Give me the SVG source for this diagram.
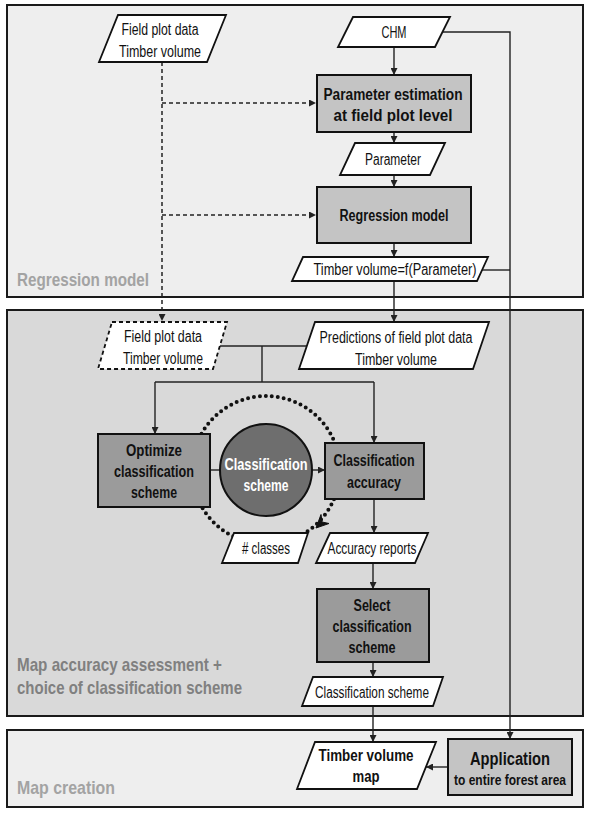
<svg xmlns="http://www.w3.org/2000/svg" width="590" height="814" viewBox="0 0 590 814">
<defs>
<style>
.panel{stroke:#1a1a1a;stroke-width:2}
.para{fill:#fff;stroke:#111;stroke-width:1.8}
.box{stroke:#111;stroke-width:2}
.lt{fill:#c4c4c4}
.dk{fill:#9b9b9b}
.ln{fill:none;stroke:#222;stroke-width:1.4}
.dash{fill:none;stroke:#222;stroke-width:1.5;stroke-dasharray:4 3}
.t{font-family:"Liberation Sans",Arial,sans-serif;font-size:16px;fill:#111;text-anchor:middle}
.b{font-weight:bold}
.lab{font-family:"Liberation Sans",Arial,sans-serif;font-size:19px;font-weight:bold}
</style>
<marker id="ah" viewBox="0 0 8 8" refX="8" refY="4" markerWidth="7" markerHeight="7" markerUnits="userSpaceOnUse" orient="auto">
<path d="M0,0 L8,4 L0,8 z" fill="#222"/>
</marker>
</defs>

<g id="panels">
<rect class="panel" x="7" y="5" width="576" height="292" fill="#eeeeee"/>
<rect class="panel" x="7" y="310" width="576" height="406" fill="#d9d9d9"/>
<rect class="panel" x="7" y="730" width="576" height="77" fill="#eeeeee"/>
<text class="lab" x="17" y="286" fill="#a3a3a3" textLength="132" lengthAdjust="spacingAndGlyphs">Regression model</text>
<text class="lab" x="17" y="671" fill="#808080" textLength="205" lengthAdjust="spacingAndGlyphs">Map accuracy assessment +</text>
<text class="lab" x="17" y="694" fill="#808080" textLength="225" lengthAdjust="spacingAndGlyphs">choice of classification scheme</text>
<text class="lab" x="17" y="794" fill="#a3a3a3" textLength="98" lengthAdjust="spacingAndGlyphs">Map creation</text>
</g>

<g id="loop">
<circle cx="266" cy="470" r="74" fill="none" stroke="#111" stroke-width="4" stroke-linecap="round" stroke-dasharray="0 6"/>
<polygon points="316,528 329,523.5 322,522 321,514.5" fill="#111" stroke="#111" stroke-width="1"/>
</g>

<g id="connectors">
<path class="dash" d="M162,62 V321" marker-end="url(#ah)"/>
<path class="dash" d="M162,103 H316" marker-end="url(#ah)"/>
<path class="dash" d="M162,215 H316" marker-end="url(#ah)"/>
<path class="ln" d="M394,47 V75" marker-end="url(#ah)"/>
<path class="ln" d="M394,132 V143" marker-end="url(#ah)"/>
<path class="ln" d="M394,175 V187" marker-end="url(#ah)"/>
<path class="ln" d="M394,243 V257" marker-end="url(#ah)"/>
<path class="ln" d="M394,281 V322" marker-end="url(#ah)"/>
<path class="ln" d="M442,32 H510 V739" marker-end="url(#ah)"/>
<path class="ln" d="M482,270 H510"/>
<path class="ln" d="M220,346 H307"/>
<path class="ln" d="M262,346 V382"/>
<path class="ln" d="M155,382 H374"/>
<path class="ln" d="M155,382 V434" marker-end="url(#ah)"/>
<path class="ln" d="M374,382 V443" marker-end="url(#ah)"/>
<path class="ln" d="M210,470 H221"/>
<path class="ln" d="M312,470 H325" marker-end="url(#ah)"/>
<path class="ln" d="M374,499 V533" marker-end="url(#ah)"/>
<path class="ln" d="M373,563 V589" marker-end="url(#ah)"/>
<path class="ln" d="M373,662 V677" marker-end="url(#ah)"/>
<path class="ln" d="M373,706 V742" marker-end="url(#ah)"/>
<path class="ln" d="M448,767 H426" marker-end="url(#ah)"/>
</g>

<g id="field-plot-data">
<polygon class="para" points="118,15 226,15 207,62 99,62"/>
<text class="t" x="160" y="35" textLength="77" lengthAdjust="spacingAndGlyphs">Field plot data</text>
<text class="t" x="160" y="57" textLength="82" lengthAdjust="spacingAndGlyphs">Timber volume</text>
</g>

<g id="chm">
<polygon class="para" points="353,17 450,17 435,47 338,47"/>
<text class="t" x="394" y="38" textLength="25" lengthAdjust="spacingAndGlyphs">CHM</text>
</g>

<g id="parameter-estimation">
<rect class="box lt" x="317" y="75" width="154" height="57"/>
<text class="t b" x="393" y="100" textLength="139" lengthAdjust="spacingAndGlyphs">Parameter estimation</text>
<text class="t b" x="393" y="121" textLength="119" lengthAdjust="spacingAndGlyphs">at field plot level</text>
</g>

<g id="parameter">
<polygon class="para" points="355,143 445,143 430,175 340,175"/>
<text class="t" x="393" y="165" textLength="56" lengthAdjust="spacingAndGlyphs">Parameter</text>
</g>

<g id="regression-model">
<rect class="box lt" x="317" y="187" width="154" height="56"/>
<text class="t b" x="394" y="221" textLength="109" lengthAdjust="spacingAndGlyphs">Regression model</text>
</g>

<g id="timber-volume-f">
<polygon class="para" points="303,257 488,257 477,281 292,281"/>
<text class="t" x="395" y="275" textLength="163" lengthAdjust="spacingAndGlyphs">Timber volume=f(Parameter)</text>
</g>

<g id="field-plot-data-2">
<polygon class="para" points="112,322 227,322 213,369 98,369" stroke-dasharray="4 3"/>
<text class="t" x="163" y="342" textLength="78" lengthAdjust="spacingAndGlyphs">Field plot data</text>
<text class="t" x="163" y="364" textLength="80" lengthAdjust="spacingAndGlyphs">Timber volume</text>
</g>

<g id="predictions">
<polygon class="para" points="315,322 489,322 473,369 299,369"/>
<text class="t" x="396" y="343" textLength="153" lengthAdjust="spacingAndGlyphs">Predictions of field plot data</text>
<text class="t" x="396" y="365" textLength="82" lengthAdjust="spacingAndGlyphs">Timber volume</text>
</g>

<g id="optimize">
<rect class="box dk" x="98" y="434" width="112" height="73"/>
<text class="t b" x="154" y="456" textLength="56" lengthAdjust="spacingAndGlyphs">Optimize</text>
<text class="t b" x="154" y="477" textLength="80" lengthAdjust="spacingAndGlyphs">classification</text>
<text class="t b" x="154" y="498" textLength="46" lengthAdjust="spacingAndGlyphs">scheme</text>
</g>

<g id="classification-scheme-node">
<circle cx="266" cy="470" r="46" fill="#6e6e6e" stroke="#111" stroke-width="2"/>
<text class="t b" x="266" y="470" style="fill:#fff" textLength="83" lengthAdjust="spacingAndGlyphs">Classification</text>
<text class="t b" x="266" y="491" style="fill:#fff" textLength="45" lengthAdjust="spacingAndGlyphs">scheme</text>
</g>

<g id="classification-accuracy">
<rect class="box dk" x="325" y="443" width="99" height="56"/>
<text class="t b" x="374" y="466" textLength="81" lengthAdjust="spacingAndGlyphs">Classification</text>
<text class="t b" x="374" y="488" textLength="54" lengthAdjust="spacingAndGlyphs">accuracy</text>
</g>

<g id="classes">
<polygon class="para" points="234,533 308,533 298,563 222,563"/>
<text class="t" x="266" y="554" textLength="48" lengthAdjust="spacingAndGlyphs"># classes</text>
</g>

<g id="accuracy-reports">
<polygon class="para" points="330,533 428,533 415,563 316,563"/>
<text class="t" x="372" y="554" textLength="89" lengthAdjust="spacingAndGlyphs">Accuracy reports</text>
</g>

<g id="select">
<rect class="box dk" x="317" y="589" width="112" height="73"/>
<text class="t b" x="372" y="611" textLength="37" lengthAdjust="spacingAndGlyphs">Select</text>
<text class="t b" x="372" y="632" textLength="79" lengthAdjust="spacingAndGlyphs">classification</text>
<text class="t b" x="372" y="653" textLength="47" lengthAdjust="spacingAndGlyphs">scheme</text>
</g>

<g id="classification-scheme">
<polygon class="para" points="313,677 443,677 433,706 302,706"/>
<text class="t" x="372" y="698" textLength="114" lengthAdjust="spacingAndGlyphs">Classification scheme</text>
</g>

<g id="timber-volume-map">
<polygon class="para" points="315,742 436,742 417,789 297,789"/>
<text class="t b" x="366" y="761" textLength="95" lengthAdjust="spacingAndGlyphs">Timber volume</text>
<text class="t b" x="366" y="782" textLength="27" lengthAdjust="spacingAndGlyphs">map</text>
</g>

<g id="application">
<rect class="box lt" x="448" y="739" width="124" height="56"/>
<text class="t b" x="510" y="765" style="font-size:18px" textLength="80" lengthAdjust="spacingAndGlyphs">Application</text>
<text class="t b" x="510" y="785" style="font-size:14px" textLength="112" lengthAdjust="spacingAndGlyphs">to entire forest area</text>
</g>
</svg>
